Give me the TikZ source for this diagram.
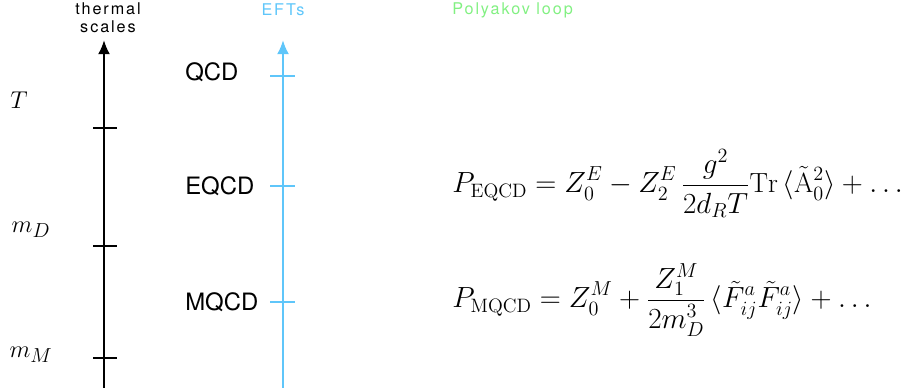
\documentclass[tikz,border=0pt]{standalone}
\usepackage{amsmath}
\usepackage{fontspec}
\setsansfont{TeX Gyre Heros}
\newfontfamily\spacedsans[LetterSpace=12]{TeX Gyre Heros}
\usepackage{tikz}
\usetikzlibrary{arrows.meta, positioning}
\definecolor{eftblue}{RGB}{95,198,250}
\definecolor{loopgreen}{RGB}{130,240,130}

\begin{document}
\begin{tikzpicture}[x=0.025cm, y=-0.025cm,
  scaleaxis/.style = {line width=1.6pt, -{Latex[length=10pt, width=8.5pt]}},
  scaletick/.style = {line width=1.4pt},
  head/.style      = {font=\spacedsans\fontsize{11.5}{12.8}\selectfont, align=center, inner sep=0pt},
  eftlbl/.style    = {font=\sffamily\fontsize{17}{20}\selectfont, anchor=west, inner sep=0pt},
  scalelbl/.style  = {font=\fontsize{19}{22}\selectfont, inner sep=0pt},
  loopeq/.style    = {font=\fontsize{19.7}{24}\selectfont, anchor=base west, inner sep=0pt},
]
\useasboundingbox (0,0) rectangle (901,392);

%% -- headings --------------------------------------------------------------
\node[head]                  (thermal) at (108,18)  {thermal\\scales};
\node[head, text=eftblue]    (efts)    at (283,10)  {EFTs};
\node[head, text=loopgreen, anchor=west] (loop) at (452,10) {Polyakov loop};

%% -- thermal scales axis ---------------------------------------------------
\coordinate (sbot) at (104,388);
\coordinate (stop) at (104,40);
\draw[scaleaxis] (sbot) -- (stop);
\foreach \y in {128, 246, 358}
  \draw[scaletick] (93,\y) -- (117,\y);

\node[scalelbl] (lT) at (19,100) {$T$};
\node[scalelbl] (lD) at (31,230) {$m_D$};
\node[scalelbl] (lM) at (31,355) {$m_M$};

%% -- EFT axis --------------------------------------------------------------
\coordinate (ebot) at (283,388);
\coordinate (etop) at (283,40);
\draw[scaleaxis, eftblue] (ebot) -- (etop);
\foreach \y in {76, 186, 302}
  \draw[scaletick, eftblue] (270,\y) -- (295,\y);

\node[eftlbl] (qcd)  at (185,72)  {QCD};
\node[eftlbl] (eqcd) at (185,186) {EQCD};
\node[eftlbl] (mqcd) at (185,302) {MQCD};

%% -- Polyakov loop expansions ----------------------------------------------
\node[loopeq] (peqcd) at (452,193)
  {$\displaystyle P_{\mathrm{EQCD}} = Z_0^E - Z_2^E\,\frac{g^2}{2d_RT}\mathrm{Tr}\,
   \langle\tilde{\mathrm{A}}_0^2\rangle + \ldots$};
\node[loopeq] (pmqcd) at (452,308)
  {$\displaystyle P_{\mathrm{MQCD}} = Z_0^M + \frac{Z_1^M}{2m_D^3}\,
   \langle\tilde{F}_{ij}^a\tilde{F}_{ij}^a\rangle + \ldots$};

\end{tikzpicture}
\end{document}
